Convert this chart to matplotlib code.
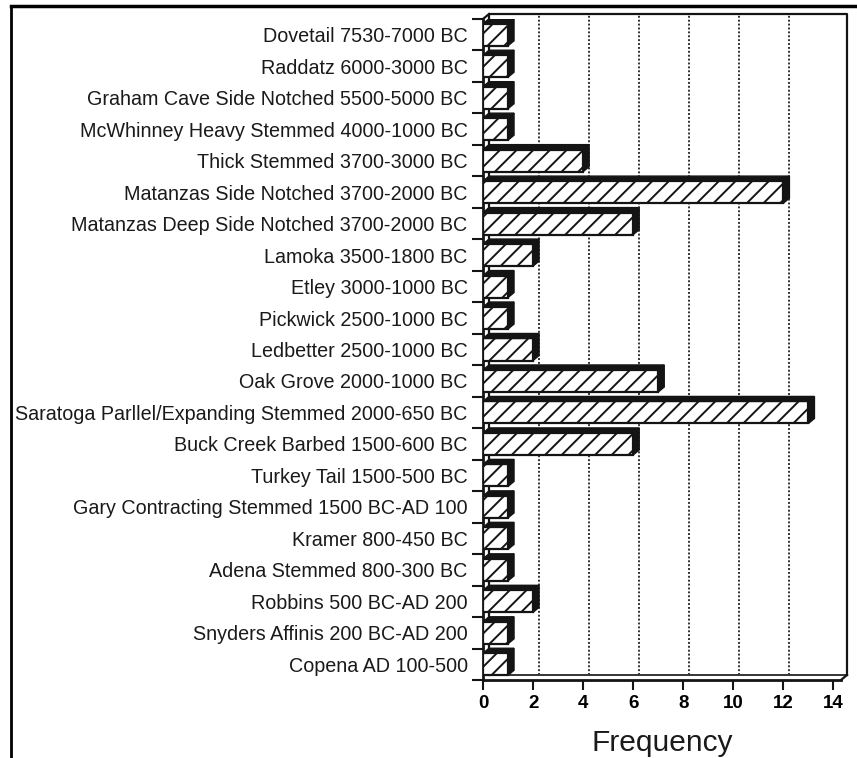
import matplotlib
matplotlib.use("Agg")
import matplotlib.pyplot as plt
from matplotlib.patches import Polygon
from matplotlib.lines import Line2D
import numpy as np

plt.rcParams["font.family"] = ["Liberation Sans", "DejaVu Sans"]
plt.rcParams["hatch.linewidth"] = 1.4

# tipos de puntas, de arriba hacia abajo
tipos = [
    "Dovetail 7530-7000 BC",
    "Raddatz 6000-3000 BC",
    "Graham Cave Side Notched 5500-5000 BC",
    "McWhinney Heavy Stemmed 4000-1000 BC",
    "Thick Stemmed 3700-3000 BC",
    "Matanzas Side Notched 3700-2000 BC",
    "Matanzas Deep Side Notched 3700-2000 BC",
    "Lamoka 3500-1800 BC",
    "Etley 3000-1000 BC",
    "Pickwick 2500-1000 BC",
    "Ledbetter 2500-1000 BC",
    "Oak Grove 2000-1000 BC",
    "Saratoga Parllel/Expanding Stemmed 2000-650 BC",
    "Buck Creek Barbed 1500-600 BC",
    "Turkey Tail 1500-500 BC",
    "Gary Contracting Stemmed 1500 BC-AD 100",
    "Kramer 800-450 BC",
    "Adena Stemmed 800-300 BC",
    "Robbins 500 BC-AD 200",
    "Snyders Affinis 200 BC-AD 200",
    "Copena AD 100-500",
]
frecuencias = [1, 1, 1, 1, 4, 12, 6, 2, 1, 1, 2, 7, 13, 6, 1, 1, 1, 1, 2, 1, 1]
ticks_x = [0, 2, 4, 6, 8, 10, 12, 14]

W, H = 857, 758
fig = plt.figure(figsize=(W / 100, H / 100), dpi=100)
ax = fig.add_axes([483 / W, 78 / H, 358 / W, 661 / H])
XMAX = 14.3
ax.set_xlim(0, XMAX)
ax.set_ylim(-0.5, len(tipos) - 0.5)
ytop = len(tipos) - 0.5

# profundidad del efecto 3D en unidades de datos (6 px a la derecha, 5 px arriba)
ddx = 6 / (358 / XMAX)
ddy = 5 / (661 / len(tipos))

negro = "#141414"
y = np.arange(len(tipos))[::-1]
alto = 0.7

# pared de fondo y piso
ax.plot([ddx, ddx, XMAX + ddx, XMAX + ddx], [-0.5 + ddy, ytop + ddy, ytop + ddy, -0.5 + ddy],
        color=negro, lw=1.6, clip_on=False, zorder=1)
ax.plot([ddx, XMAX + ddx], [-0.5 + ddy, -0.5 + ddy], color=negro, lw=1.2, clip_on=False, zorder=1)
ax.plot([XMAX, XMAX + ddx], [-0.5, -0.5 + ddy], color=negro, lw=1.6, clip_on=False, zorder=1)
ax.plot([0, ddx], [ytop, ytop + ddy], color=negro, lw=1.6, clip_on=False, zorder=1)
for t in ticks_x[1:-1]:
    ax.plot([t + ddx, t + ddx], [-0.5 + ddy, ytop + ddy], color="#333333", lw=1.4,
            ls=(0, (1, 1)), clip_on=False, zorder=1)

# barras (cara frontal)
ax.barh(y, frecuencias, height=alto, color="white", edgecolor=negro, hatch="//",
        linewidth=1.6, zorder=3)

# caras superior y lateral
for yi, v in zip(y, frecuencias):
    b, t = yi - alto / 2, yi + alto / 2
    sup = Polygon([(0, t), (v, t), (v + ddx, t + ddy), (ddx, t + ddy)], closed=True,
                  facecolor=negro, edgecolor=negro, lw=1.0, zorder=4)
    lat = Polygon([(v, b), (v + ddx, b + ddy), (v + ddx, t + ddy), (v, t)], closed=True,
                  facecolor=negro, edgecolor=negro, lw=1.0, zorder=4)
    ax.add_patch(sup)
    ax.add_patch(lat)

for s in ["top", "right"]:
    ax.spines[s].set_visible(False)
for s in ["left", "bottom"]:
    ax.spines[s].set_linewidth(2)
    ax.spines[s].set_color(negro)

ax.set_yticks(y)
ax.set_yticklabels(tipos, fontsize=14.2, color="#1a1a1a")
ax.set_yticks(np.arange(-0.5, len(tipos), 1), minor=True)
ax.tick_params(axis="y", which="major", length=0, pad=11)
ax.tick_params(axis="y", which="minor", length=8, width=1.5, color=negro)

ax.set_xticks(ticks_x)
ax.tick_params(axis="x", length=7, width=1.5, color=negro, labelsize=13.5, pad=4)
for lbl in ax.get_xticklabels():
    lbl.set_fontweight("bold")
ax.set_xlabel("Frequency", fontsize=21.5, color="#1a1a1a", labelpad=12)

# marco de la hoja
fig.add_artist(Line2D([11 / W, 1], [1 - 6 / H, 1 - 6 / H], transform=fig.transFigure,
                      color="black", lw=2.5))
fig.add_artist(Line2D([11 / W, 11 / W], [0, 1 - 6 / H], transform=fig.transFigure,
                      color="black", lw=2.0))

fig.savefig("out.png", dpi=100)
plt.close(fig)
